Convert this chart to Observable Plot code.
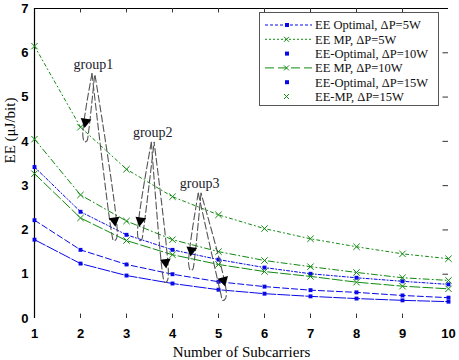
<!DOCTYPE html>
<html><head><meta charset="utf-8">
<script src="https://cdn.jsdelivr.net/npm/d3@7"></script>
<script src="https://cdn.jsdelivr.net/npm/@observablehq/plot@0.6"></script>
<style>
body{margin:0;background:#fff;}
#wrap{position:relative;width:459px;height:360px;}
#legend{position:absolute;left:0;top:0;}
</style></head><body><div id="wrap"></div>
<script>
// ---- data ----
const subcarriers = [1,2,3,4,5,6,7,8,9,10];
const eeOpt15 = [3.42,2.41,1.89,1.55,1.33,1.15,1.01,0.92,0.84,0.77];
const eeOpt10 = [2.22,1.55,1.22,1.00,0.83,0.72,0.64,0.59,0.52,0.47];
const eeOpt5  = [1.78,1.24,0.97,0.79,0.65,0.56,0.50,0.45,0.41,0.38];
const eeMP15  = [6.15,4.32,3.37,2.75,2.34,2.03,1.80,1.62,1.46,1.35];
const eeMP10  = [4.05,2.79,2.20,1.78,1.51,1.31,1.17,1.04,0.92,0.86];
const eeMP5   = [3.27,2.27,1.76,1.44,1.22,1.06,0.95,0.82,0.73,0.67];
const yTicks = [0,1,2,3,4,5,6,7];
const legendLabels = ["EE Optimal, \u0394P=5W","EE MP, \u0394P=5W","EE-Optimal, \u0394P=10W","EE MP, \u0394P=10W","EE-Optimal, \u0394P=15W","EE-MP, \u0394P=15W"];
const groupNames = ["group1","group2","group3"];
const groupTextX = [2.28, 3.57, 4.59];
const groupTextY = [5.74, 4.19, 3.04];
const arrowGroup = [0,0,1,1,2,2];
const arrowTipX = [2.11, 2.74, 3.30, 3.85, 4.41, 5.11];
const arrowTipY = [4.39, 2.16, 2.16, 1.22, 1.49, 0.81];

// ---- styles ----
const BLUE = "#0808e8", GREEN = "#108a10";
const seriesDefs = [
  {key:"opt15", values:eeOpt15, color:BLUE,  dash:"3,2,1,2", sym:"square"},
  {key:"opt10", values:eeOpt10, color:BLUE,  dash:"6,3",     sym:"square"},
  {key:"opt5",  values:eeOpt5,  color:BLUE,  dash:"12,2",    sym:"square"},
  {key:"mp15",  values:eeMP15,  color:GREEN, dash:"3,3,1,3", sym:"times"},
  {key:"mp10",  values:eeMP10,  color:GREEN, dash:"6,3,1,3", sym:"times"},
  {key:"mp5",   values:eeMP5,   color:GREEN, dash:"10,3",    sym:"times"}
];

const lineMarks = [], dotMarks = [];
for (const s of seriesDefs) {
  const rows = s.values.map((v,i) => ({x: subcarriers[i], y: v}));
  lineMarks.push(Plot.line(rows, {x:"x", y:"y", stroke:s.color, strokeWidth:1, strokeDasharray:s.dash}));
  if (s.sym === "square") dotMarks.push(Plot.dot(rows, {x:"x", y:"y", symbol:"square", r:2.2, fill:s.color}));
  else dotMarks.push(Plot.dot(rows, {x:"x", y:"y", symbol:"times", r:3, stroke:s.color, strokeWidth:1}));
}

// annotation loops and arrowheads
const loops = [];
const heads = [];
arrowTipX.forEach((tx,i) => {
  const g = arrowGroup[i];
  const sx = groupTextX[g], sy = groupTextY[g] - 0.21;
  const ty = arrowTipY[i];
  const pts = [[sx-0.03, sy],[tx-0.06, ty-0.25],[tx-0.02, ty-0.4],[tx+0.03, ty-0.38],[tx+0.06, ty-0.22],[sx+0.03, sy]];
  pts.forEach(p => loops.push({id:i, x:p[0], y:p[1]}));
  const dx = (tx - sx) * 46, dy = (sy - ty) * 44.4;
  heads.push({x: tx, y: ty + 0.05, angle: Math.atan2(dx, -dy) * 180 / Math.PI});
});
const groups = groupNames.map((n,i) => ({name:n, x:groupTextX[i], y:groupTextY[i]}));
const inner = subcarriers.slice(1,-1);
const innerY = yTicks.slice(1,-1);

const chart = Plot.plot({
  width: 459, height: 360,
  marginLeft: 34, marginRight: 11, marginTop: 8, marginBottom: 42,
  x: {domain: [1,10]},
  y: {domain: [0,7]},
  style: {fontFamily: "Liberation Sans", fontSize: "13px", background: "white", color: "black"},
  marks: [
    Plot.ruleX([1], {stroke:"black", strokeWidth:1.2}),
    Plot.ruleY([7], {stroke:"black", strokeWidth:1}),
    Plot.ruleX(inner, {y1:0, y2:0.1, stroke:"#333"}),
    Plot.ruleX(inner, {y1:7, y2:6.9, stroke:"#333"}),
    Plot.ruleY(innerY, {x1:10, x2:9.88, stroke:"#333"}),
    Plot.axisX({ticks: subcarriers, tickSize: 0, tickPadding: 10, fontWeight: "bold", fontSize: 13, label: null, tickFormat: d => String(d)}),
    Plot.axisY({ticks: yTicks, tickSize: 0, tickPadding: 6, fontWeight: "bold", fontSize: 13, label: null, tickFormat: d => String(d)}),
    Plot.text(["Number of Subcarriers"], {frameAnchor:"bottom", dy: 34, fontFamily:"Liberation Serif", fontSize: 15, lineAnchor:"middle"}),
    Plot.text(["EE (\u03bcJ/bit)"], {frameAnchor:"left", dx: -24, rotate: -90, fontFamily:"Liberation Serif", fontSize: 15}),
    ...lineMarks,
    ...dotMarks,
    Plot.line(loops, {x:"x", y:"y", z:"id", stroke:"#555", strokeWidth:1.1, strokeDasharray:"7,3", curve:"catmull-rom"}),
    Plot.dot(heads, {x:"x", y:"y", symbol:"triangle", r:4, fill:"black", rotate:"angle"}),
    Plot.text(groups, {x:"x", y:"y", text:"name", fontFamily:"Liberation Serif", fontSize:14, fill:"#1a1a2a"})
  ]
});
const wrap = document.getElementById("wrap");
wrap.appendChild(chart);

// ---- legend overlay ----
const lg = d3.select(wrap).append("svg").attr("id","legend").attr("width",459).attr("height",360)
  .style("position","absolute").style("left","0px").style("top","0px").style("pointer-events","none");
lg.append("rect").attr("x",259.5).attr("y",12.5).attr("width",179).attr("height",93)
  .attr("fill","white").attr("stroke","#555").attr("stroke-width",1);
const legendStyle = [
  {color:BLUE,  dash:"3,2", line:true,  sym:"square"},
  {color:GREEN, dash:"2,2", line:true,  sym:"times"},
  {color:BLUE,  dash:null,  line:false, sym:"square"},
  {color:GREEN, dash:"9,4", line:true,  sym:"times"},
  {color:BLUE,  dash:null,  line:false, sym:"square"},
  {color:GREEN, dash:null,  line:false, sym:"times"}
];
legendLabels.forEach((lab,i) => {
  const y = 25 + i*14.3;
  const st = legendStyle[i];
  if (st.line) lg.append("line").attr("x1",265).attr("x2",312).attr("y1",y).attr("y2",y)
    .attr("stroke",st.color).attr("stroke-width",1).attr("stroke-dasharray",st.dash);
  if (st.sym === "square") lg.append("rect").attr("x",285).attr("y",y-2).attr("width",4).attr("height",4).attr("fill",st.color);
  else lg.append("path").attr("d",`M${284},${y-2.5}L${289},${y+2.5}M${284},${y+2.5}L${289},${y-2.5}`).attr("stroke",st.color).attr("stroke-width",1);
  lg.append("text").attr("x",315).attr("y",y).attr("dy","0.35em").attr("font-family","Liberation Serif")
    .attr("font-size",12.5).attr("fill","#111").text(lab);
});
</script></body></html>
